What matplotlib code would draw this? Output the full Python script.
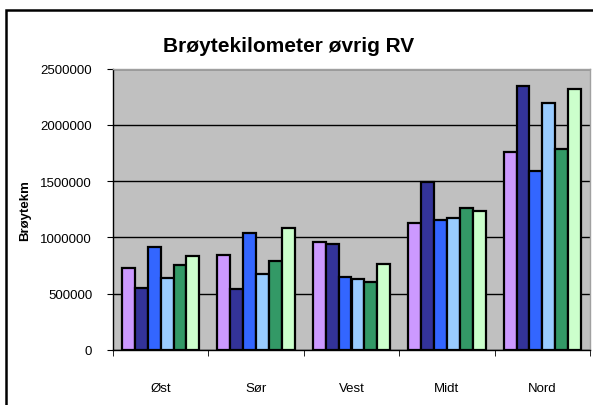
import matplotlib
matplotlib.use("Agg")
import matplotlib.pyplot as plt
import numpy as np
from matplotlib.patches import Rectangle

plt.rcParams['font.family'] = ['Liberation Sans', 'DejaVu Sans']

regions = ["Øst", "Sør", "Vest", "Midt", "Nord"]
series_1 = [727000, 842000, 963000, 1126000, 1755000]
series_2 = [547000, 540000, 945000, 1492000, 2347000]
series_3 = [919000, 1037000, 645000, 1155000, 1590000]
series_4 = [635000, 674000, 627000, 1173000, 2193000]
series_5 = [756000, 789000, 600000, 1262000, 1788000]
series_6 = [839000, 1081000, 760000, 1232000, 2320000]
series = [series_1, series_2, series_3, series_4, series_5, series_6]
colors = ["#CC99FF", "#333399", "#3366FF", "#99CCFF", "#339966", "#CCFFCC"]
yticks = [0, 500000, 1000000, 1500000, 2000000, 2500000]

fig = plt.figure(figsize=(5.93, 4.06), dpi=100)
W, H = 593, 406

# outer chart border
fig.patches.append(Rectangle((6 / W, 0 - 0.05), 1.1, (H - 11) / H + 0.05,
                             transform=fig.transFigure, fill=False,
                             edgecolor="black", linewidth=1.8))

ax = fig.add_axes([113 / W, (H - 351) / H, (590 - 113) / W, (351 - 69.5) / H])
ax.set_facecolor("#C0C0C0")

n = len(series)
bw = 0.135
x = np.arange(len(regions))
for i, (vals, c) in enumerate(zip(series, colors)):
    offs = (i - (n - 1) / 2) * bw
    ax.bar(x + offs, vals, width=bw, color=c, edgecolor="black",
           linewidth=1.6, zorder=3)

ax.set_xlim(-0.5, len(regions) - 0.5)
ax.set_ylim(0, 2500000)
ax.set_yticks(yticks)
ax.set_yticklabels([str(v) for v in yticks], fontsize=9.5)
ax.yaxis.grid(True, color="black", linewidth=1.0, zorder=1)
ax.set_axisbelow(True)

ax.set_xticks(x)
ax.set_xticklabels(regions, fontsize=9.5)
ax.tick_params(axis="x", which="major", length=0, pad=23)
ax.set_xticks(np.arange(len(regions) + 1) - 0.5, minor=True)
ax.tick_params(axis="x", which="minor", length=4, direction="out", color="black")
ax.tick_params(axis="y", length=4, direction="out", color="black", pad=11)

for s in ["top", "right"]:
    ax.spines[s].set_color("#A0A0A0")
    ax.spines[s].set_linewidth(1.0)
for s in ["left", "bottom"]:
    ax.spines[s].set_color("black")
    ax.spines[s].set_linewidth(1.0)

ax.set_ylabel("Brøytekm", fontsize=9.5, fontweight="bold", labelpad=7)
fig.text(289 / W, 1 - 46 / H, "Brøytekilometer øvrig RV", ha="center",
         va="center", fontsize=15, fontweight="bold")

fig.savefig("out.png", dpi=100)
